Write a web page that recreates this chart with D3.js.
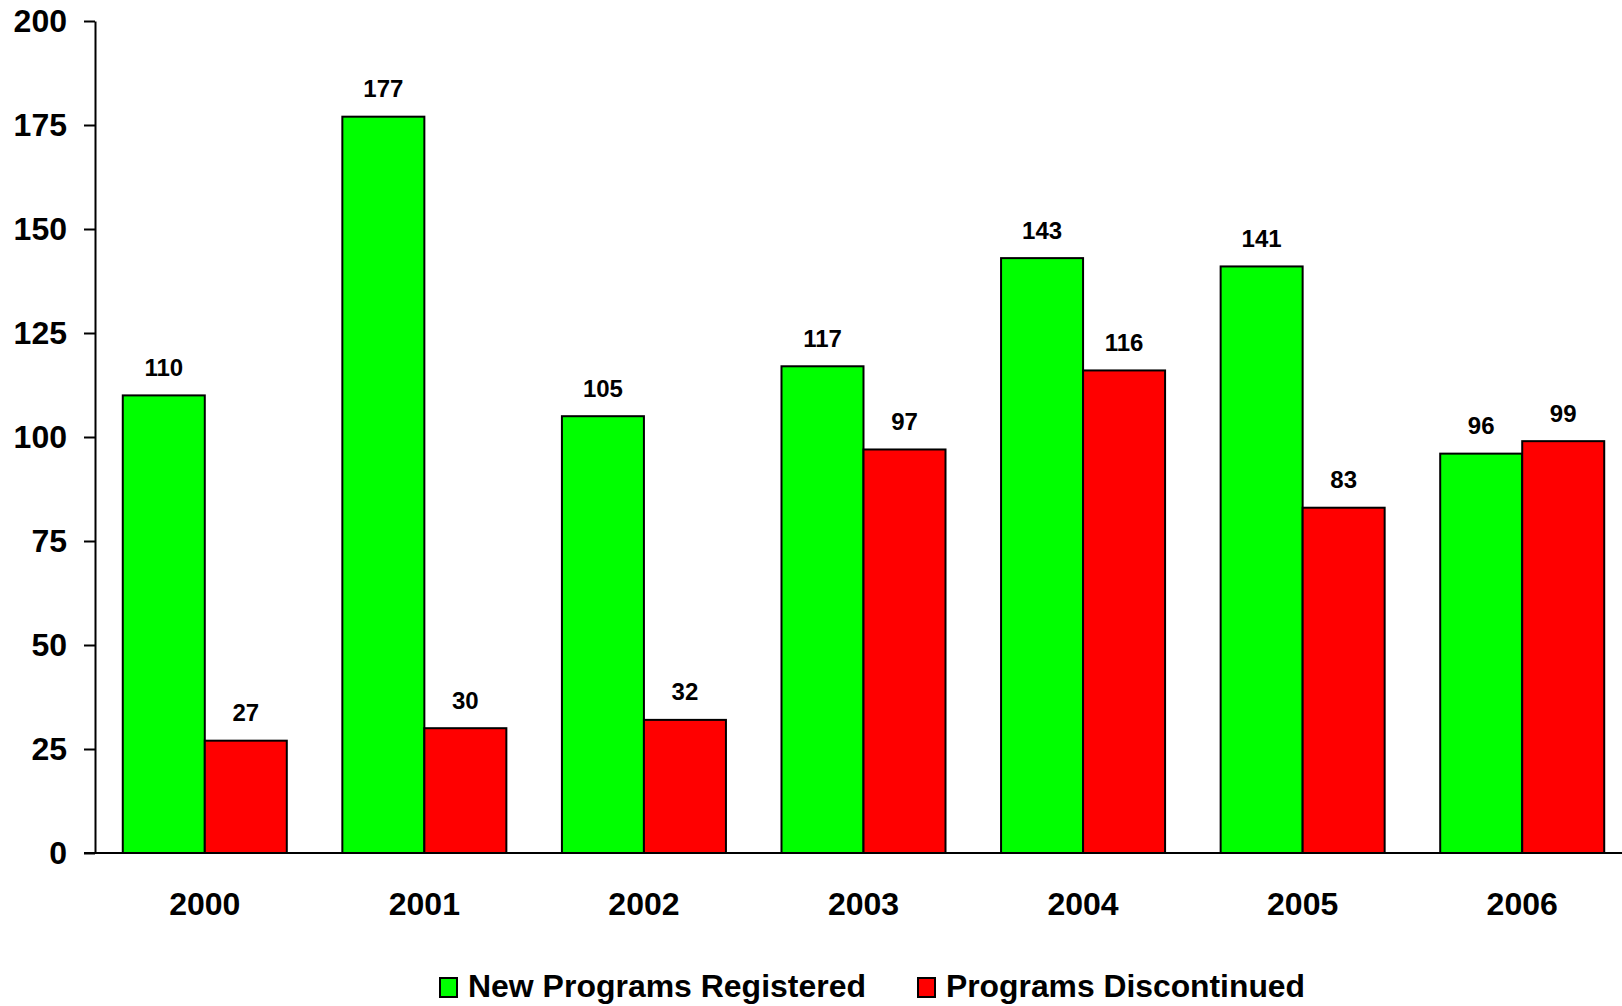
<!DOCTYPE html>
<html>
<head>
<meta charset="utf-8">
<script src="https://cdn.jsdelivr.net/npm/d3@7"></script>
<style>
  html, body { margin: 0; padding: 0; background: #fff; }
  svg { display: block; }
  text { font-family: "Liberation Sans", Arial, sans-serif; font-weight: bold; fill: #000; }
</style>
</head>
<body>
<svg id="chart" width="1622" height="1006"></svg>
<script>
// Program counts per year
const years = ["2000", "2001", "2002", "2003", "2004", "2005", "2006"];
const newRegistered = [110, 177, 105, 117, 143, 141, 96];
const discontinued = [27, 30, 32, 97, 116, 83, 99];
const seriesNames = ["New Programs Registered", "Programs Discontinued"];
const seriesColors = ["#00ff00", "#ff0000"];
const yTicks = [0, 25, 50, 75, 100, 125, 150, 175, 200];

const W = 1622, H = 1006;
const axisX = 95, yTop = 21, yBottom = 853;

const svg = d3.select("#chart");

const y = d3.scaleLinear().domain([0, 200]).range([yBottom, yTop]);
const x0 = d3.scaleBand().domain(years).range([axisX, 1632])
  .paddingInner(0.253).paddingOuter(0.1265);
const x1 = d3.scaleBand().domain([0, 1]).range([0, x0.bandwidth()]).padding(0);

const rows = years.map((yr, i) => ({ year: yr, values: [newRegistered[i], discontinued[i]] }));

// Y axis with ticks and labels
const yAxis = svg.append("g")
  .attr("transform", `translate(${axisX},0)`)
  .call(d3.axisLeft(y).tickValues(yTicks).tickSize(11).tickSizeOuter(0).tickPadding(17));
yAxis.select(".domain").attr("stroke", "#000").attr("stroke-width", 2);
yAxis.selectAll(".tick line").attr("stroke", "#000").attr("stroke-width", 2);
yAxis.selectAll(".tick text").attr("font-size", 32)
  .attr("font-family", "Liberation Sans, Arial, sans-serif").attr("font-weight", "bold");

// Bars
const groups = svg.append("g").selectAll("g").data(rows).join("g")
  .attr("transform", d => `translate(${x0(d.year)},0)`);

groups.selectAll("rect").data(d => d.values.map((v, k) => ({ v, k }))).join("rect")
  .attr("x", d => x1(d.k))
  .attr("y", d => y(d.v))
  .attr("width", x1.bandwidth())
  .attr("height", d => y(0) - y(d.v))
  .attr("fill", d => seriesColors[d.k])
  .attr("stroke", "#000")
  .attr("stroke-width", 2);

groups.selectAll("text").data(d => d.values.map((v, k) => ({ v, k }))).join("text")
  .attr("x", d => x1(d.k) + x1.bandwidth() / 2)
  .attr("y", d => y(d.v) - 19.5)
  .attr("text-anchor", "middle")
  .attr("font-size", 24)
  .text(d => d.v);

// X axis baseline and year labels
const xAxis = svg.append("g")
  .attr("transform", `translate(0,${yBottom})`)
  .call(d3.axisBottom(x0).tickSize(0).tickPadding(39));
xAxis.select(".domain").remove();
xAxis.selectAll(".tick text").attr("font-size", 32)
  .attr("font-family", "Liberation Sans, Arial, sans-serif").attr("font-weight", "bold");
svg.append("line")
  .attr("x1", 84).attr("x2", W)
  .attr("y1", yBottom).attr("y2", yBottom)
  .attr("stroke", "#000").attr("stroke-width", 2);

// Legend
const legendItems = [{ x: 440, tx: 468, len: 398 }, { x: 918, tx: 946, len: 359 }];
const legend = svg.append("g");
legendItems.forEach((p, k) => {
  legend.append("rect")
    .attr("x", p.x).attr("y", 978)
    .attr("width", 17).attr("height", 19)
    .attr("fill", seriesColors[k]).attr("stroke", "#000").attr("stroke-width", 2);
  legend.append("text")
    .attr("x", p.tx).attr("y", 997)
    .attr("font-size", 31.5)
    .attr("textLength", p.len)
    .attr("lengthAdjust", "spacingAndGlyphs")
    .text(seriesNames[k]);
});
</script>
</body>
</html>
